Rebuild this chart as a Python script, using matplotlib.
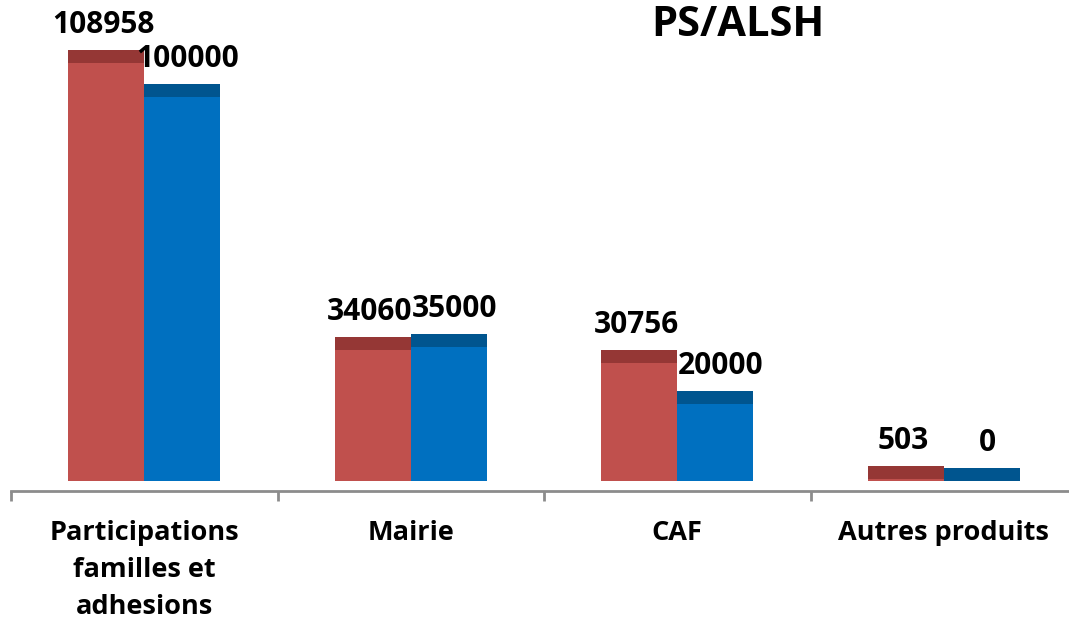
import numpy as np
import matplotlib.pyplot as plt

plt.rcParams['font.family'] = ['Open Sans', 'DejaVu Sans']

categories = ['Participations\nfamilles et\nadhesions', 'Mairie', 'CAF', 'Autres produits']
realise = [108958, 34060, 30756, 503]
budget = [100000, 35000, 20000, 0]

red_body, red_cap = '#C0504D', '#953735'
blue_body, blue_cap = '#0070C0', '#00558F'

cap_h = 3385  # height of the darker top band (pseudo 3D)
bar_w = 0.285

fig = plt.figure(figsize=(10.69, 6.24), dpi=100)
ax = fig.add_axes([11 / 1069, 133 / 624, 1066 / 1069, 491 / 624])

x = np.arange(len(categories))

for xs, vals, body, cap, dx in [(x - bar_w / 2, realise, red_body, red_cap, -2),
                                (x + bar_w / 2, budget, blue_body, blue_cap, 4)]:
    ax.bar(xs, vals, width=bar_w, color=body, linewidth=0)
    ax.bar(xs, [cap_h] * len(vals), bottom=vals, width=bar_w, color=cap, linewidth=0)
    for xi, v in zip(xs, vals):
        ax.annotate(str(v), (xi, v + cap_h), xytext=(dx, 7), textcoords='offset points',
                    ha='center', va='bottom', fontsize=21.5, fontweight='bold', color='black')

ax.set_xlim(-0.5, len(categories) - 0.5)
ax.set_ylim(-2604, 125256)

for s in ['top', 'right', 'left']:
    ax.spines[s].set_visible(False)
ax.spines['bottom'].set_color('#8C8C8C')
ax.spines['bottom'].set_linewidth(2)
ax.set_yticks([])

ax.set_xticks(np.arange(-0.5, len(categories)), labels=[''] * (len(categories) + 1))
ax.tick_params(axis='x', which='major', direction='out', length=7, width=2, color='#8C8C8C')
ax.set_xticks(x, labels=categories, minor=True)
ax.tick_params(axis='x', which='minor', length=0, pad=21)
for lbl in ax.get_xticklabels(minor=True):
    lbl.set_fontsize(19.5)
    lbl.set_fontweight('bold')
    lbl.set_linespacing(1.55)

fig.text(738 / 1069, 1 - 26 / 624, 'PS/ALSH', ha='center', va='center',
         fontsize=30, fontweight='bold')

fig.savefig('out.png', dpi=100)
